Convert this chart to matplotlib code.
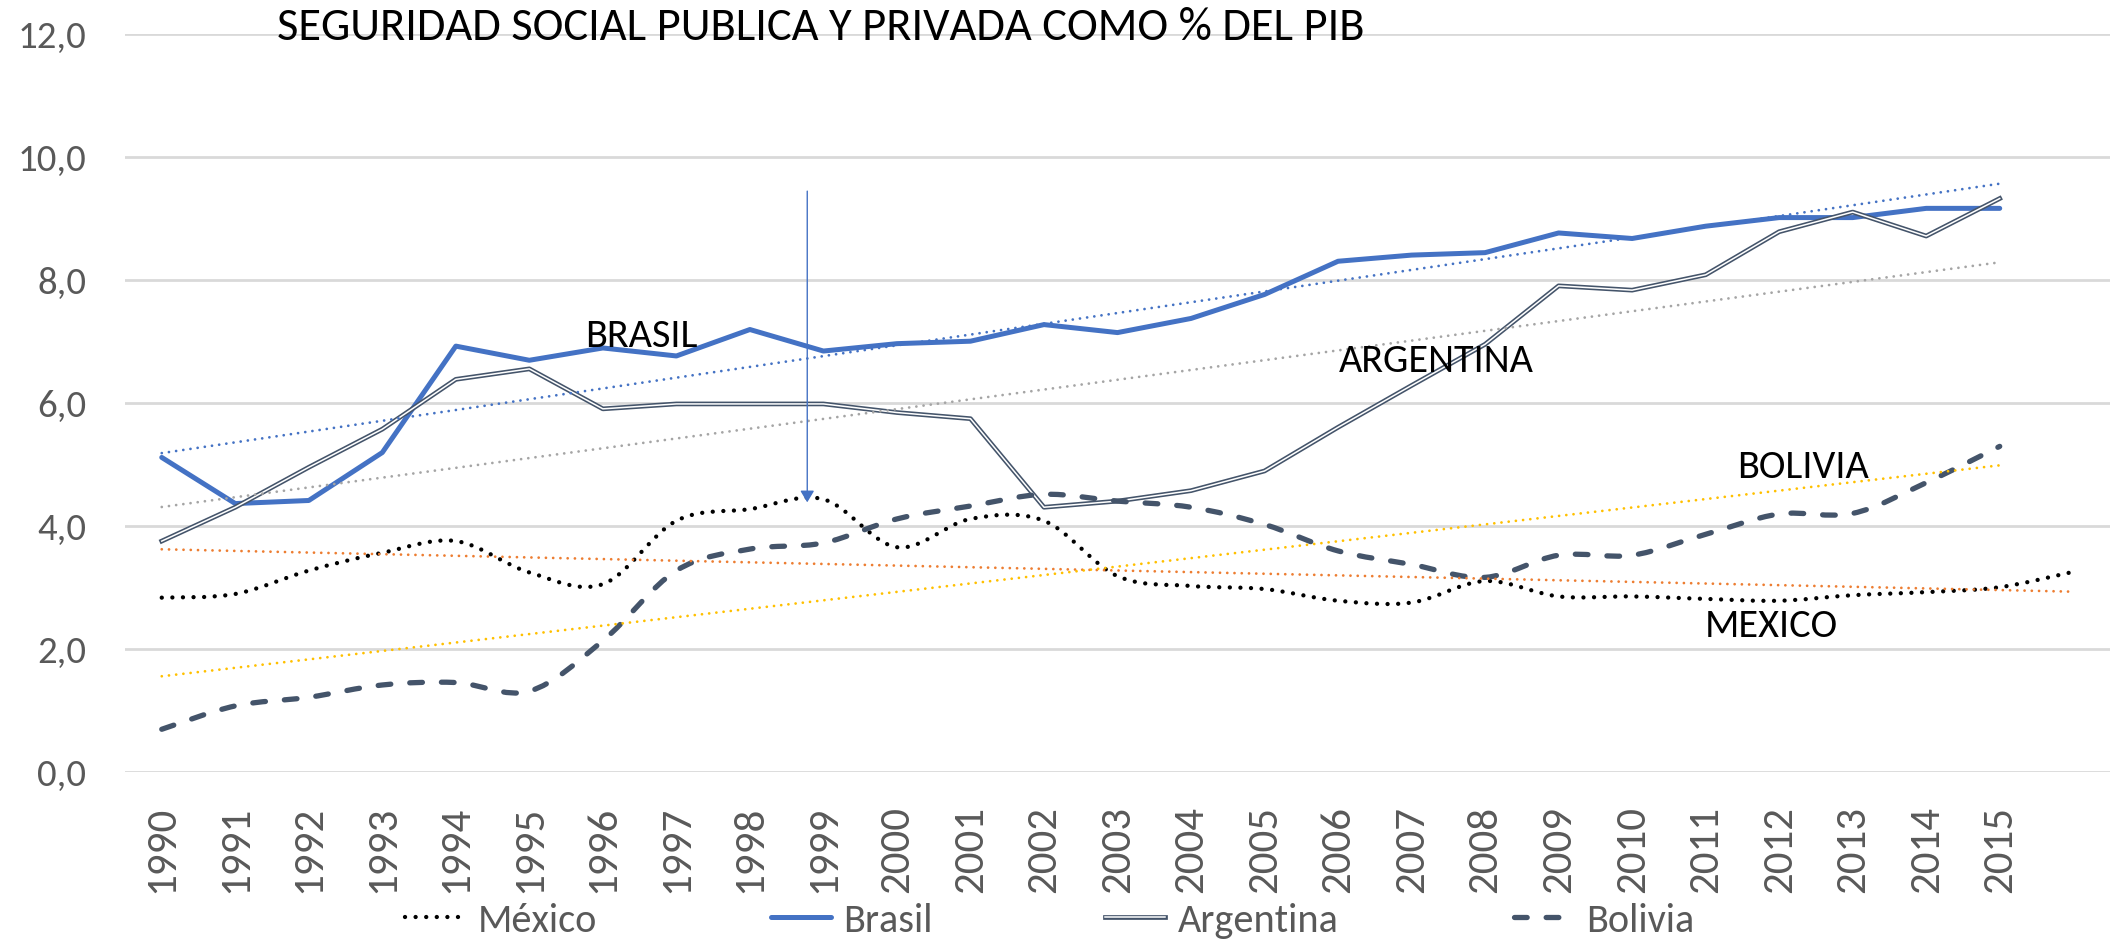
import numpy as np
from matplotlib import pyplot as plt
from matplotlib import font_manager
from matplotlib.path import Path
from matplotlib.patches import PathPatch
from matplotlib.lines import Line2D
import matplotlib.patheffects as pe

# pick a Calibri-like family if one is around
names = {f.name for f in font_manager.fontManager.ttflist}
FONT = 'Lato'
for cand in ['Carlito', 'Liberation Sans Narrow', 'Lato']:
    if cand in names:
        FONT = cand
        break
plt.rcParams['font.family'] = [FONT, 'DejaVu Sans']

years = list(range(1990, 2017))
year_labels = [str(y) for y in range(1990, 2016)] + ['']

mexico = [2.83, 2.89, 3.27, 3.56, 3.75, 3.24, 3.05, 4.08, 4.27, 4.43, 3.65, 4.11, 4.08,
          3.18, 3.02, 2.97, 2.78, 2.75, 3.10, 2.85, 2.85, 2.81, 2.78, 2.87, 2.92, 3.00, 3.25]
brasil = [5.11, 4.36, 4.41, 5.19, 6.92, 6.69, 6.89, 6.76, 7.19, 6.84, 6.96, 7.00, 7.27,
          7.14, 7.37, 7.76, 8.30, 8.40, 8.44, 8.76, 8.67, 8.87, 9.01, 9.01, 9.16, 9.16]
argentina = [3.75, 4.30, 4.95, 5.57, 6.38, 6.55, 5.90, 5.98, 5.98, 5.98, 5.84, 5.74, 4.30,
             4.40, 4.57, 4.89, 5.60, 6.28, 6.95, 7.90, 7.83, 8.08, 8.78, 9.10, 8.71, 9.32]
bolivia = [0.69, 1.07, 1.21, 1.41, 1.45, 1.31, 2.13, 3.27, 3.62, 3.72, 4.11, 4.32, 4.51,
           4.40, 4.30, 4.02, 3.59, 3.37, 3.16, 3.52, 3.52, 3.86, 4.19, 4.20, 4.70, 5.29]

series_names = ['México', 'Brasil', 'Argentina', 'Bolivia']
title = "SEGURIDAD SOCIAL PUBLICA Y PRIVADA COMO % DEL PIB"

BLUE = '#4472C4'
SLATE = '#44546A'
GRID = '#D9D9D9'
TICK = '#595959'


def smooth_path(x, y):
    # excel-style smoothed line as bezier segments
    n = len(x)
    verts = [(x[0], y[0])]
    codes = [Path.MOVETO]
    for i in range(n - 1):
        a = max(i - 1, 0)
        b = min(i + 2, n - 1)
        c1 = (x[i] + (x[i + 1] - x[a]) / 6, y[i] + (y[i + 1] - y[a]) / 6)
        c2 = (x[i + 1] - (x[b] - x[i]) / 6, y[i + 1] - (y[b] - y[i]) / 6)
        verts += [c1, c2, (x[i + 1], y[i + 1])]
        codes += [Path.CURVE4] * 3
    return Path(verts, codes)


fig = plt.figure(figsize=(21.18, 9.45), dpi=100)
ax = fig.add_axes([125 / 2118, 1 - 772.7 / 945, 1985 / 2118, 738 / 945])

x_mx = np.arange(len(mexico))
x_br = np.arange(len(brasil))
x_ar = np.arange(len(argentina))
x_bo = np.arange(len(bolivia))

mex_style = dict(color='black', lw=3.1, linestyle=(0, (0.01, 2.45)))
bol_style = dict(color=SLATE, lw=3.8, linestyle=(0, (2.4, 3.6)))

ax.add_patch(PathPatch(smooth_path(x_mx, mexico), fill=False, edgecolor='black',
                       lw=mex_style['lw'], linestyle=mex_style['linestyle'],
                       capstyle='round', zorder=3))
br_line, = ax.plot(x_br, brasil, color=BLUE, lw=3.6, solid_capstyle='round',
                   solid_joinstyle='round', zorder=3)
ar_line, = ax.plot(x_ar, argentina, color='white', lw=1.1, zorder=3,
                   path_effects=[pe.Stroke(linewidth=3.4, foreground=SLATE), pe.Normal()])
ax.add_patch(PathPatch(smooth_path(x_bo, bolivia), fill=False, edgecolor=SLATE,
                       lw=bol_style['lw'], linestyle=bol_style['linestyle'],
                       capstyle='round', zorder=3))

# linear trend lines
for xs, ys, col in [(x_mx, mexico, '#ED7D31'), (x_br, brasil, BLUE),
                    (x_ar, argentina, '#A5A5A5'), (x_bo, bolivia, '#FFC000')]:
    k, b = np.polyfit(xs, ys, 1)
    ax.plot([xs[0], xs[-1]], [k * xs[0] + b, k * xs[-1] + b], color=col, lw=2.0,
            linestyle=(0, (0.01, 2.6)), dash_capstyle='round', zorder=4)

ax.annotate('', xy=(8.78, 4.38), xytext=(8.78, 9.44),
            arrowprops=dict(arrowstyle='-|>,head_length=0.5,head_width=0.3',
                            color=BLUE, lw=1, mutation_scale=14, shrinkA=0, shrinkB=0),
            zorder=5)

for txt, xi, yv in [('BRASIL', 6.52, 7.10), ('ARGENTINA', 17.34, 6.70),
                    ('BOLIVIA', 22.33, 4.97), ('MEXICO', 21.89, 2.38)]:
    ax.text(xi, yv, txt, fontsize=29, ha='center', va='center', color='black', zorder=6)

fig.text(277 / 2118, 1 - 27 / 945, title, fontsize=33.5, ha='left', va='center')

ax.set_xlim(-0.5, 26.5)
ax.set_ylim(0, 12)
ax.set_yticks(np.arange(0, 13, 2))
ax.set_yticklabels([f"{v:.1f}".replace('.', ',') for v in np.arange(0, 13, 2)])
ax.set_xticks(np.arange(len(years)))
ax.set_xticklabels(year_labels, rotation=90)
ax.tick_params(axis='y', length=0, pad=28, labelsize=28, labelcolor=TICK)
ax.tick_params(axis='x', length=0, pad=24, labelsize=31, labelcolor=TICK)
ax.yaxis.grid(True, color=GRID, lw=2)
ax.set_axisbelow(True)
for s in ax.spines.values():
    s.set_visible(False)

mx_handle = Line2D([], [], color='black', lw=mex_style['lw'], linestyle=mex_style['linestyle'],
                   dash_capstyle='round')
bo_handle = Line2D([], [], color=SLATE, lw=bol_style['lw'], linestyle=bol_style['linestyle'],
                   dash_capstyle='round')

# one legend entry per box so each sits where Excel put it
entry_x = [405, 771, 1105, 1514]
for h, name, xpix in zip([mx_handle, br_line, ar_line, bo_handle], series_names, entry_x):
    fig.legend([h], [name], loc='center left', bbox_to_anchor=(xpix / 2118, 0.0254),
               frameon=False, fontsize=29, labelcolor=TICK, handlelength=1.5,
               handletextpad=0.3, borderpad=0, borderaxespad=0)

fig.savefig('out.png', dpi=100)
